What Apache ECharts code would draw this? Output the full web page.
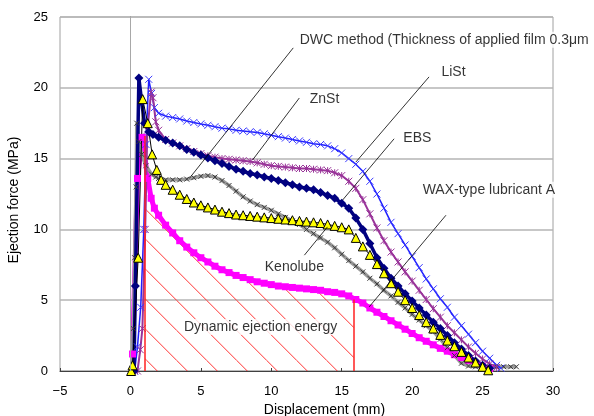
<!DOCTYPE html>
<html>
<head>
<meta charset="utf-8">
<script src="https://cdn.jsdelivr.net/npm/echarts@6/dist/echarts.min.js"></script>
<style>
  html, body { margin: 0; padding: 0; background: #fff; }
  #chart { width: 594px; height: 416px; }
</style>
</head>
<body>
<div id="chart"></div>
<script>
// Ejection force (MPa) vs displacement (mm)
const seriesNames = ['WAX-type lubricant A', 'DWC method', 'LiSt', 'ZnSt', 'EBS', 'Kenolube'];

const waxData = [
  [0.15, 1.2], [0.5, 13.6], [0.83, 16.5], [1.23, 13.6], [1.47, 12.2], [1.7, 11.5], [2.0, 11.0], [2.5, 10.3],
  [3.0, 9.75], [3.5, 9.2], [4.0, 8.75], [4.5, 8.35], [5.0, 8.0], [5.5, 7.7], [6.0, 7.4], [6.5, 7.15],
  [7.0, 6.95], [7.5, 6.75], [8.0, 6.6], [8.5, 6.45], [9.0, 6.3], [9.5, 6.2], [10.0, 6.1], [10.5, 6.0],
  [11.0, 5.95], [11.5, 5.9], [12.0, 5.85], [12.5, 5.8], [13.0, 5.75], [13.5, 5.7], [14.0, 5.6], [14.5, 5.55],
  [15.0, 5.45], [15.5, 5.3], [16.0, 5.05], [16.5, 4.8], [17.0, 4.45], [17.5, 4.15], [18.0, 3.85], [18.5, 3.55],
  [19.0, 3.25], [19.5, 2.95], [20.0, 2.65], [20.5, 2.35], [21.0, 2.1], [21.5, 1.85], [22.0, 1.6], [22.5, 1.4],
  [23.0, 1.15], [23.5, 0.95], [24.0, 0.75], [24.5, 0.55], [25.0, 0.35], [25.5, 0.17]
];

const dwcData = [
  [0.1, 0], [0.2, 3.0], [0.3, 8.0], [0.4, 13.0], [0.45, 17.5], [0.6, 16.2], [0.8, 15.3], [1.1, 14.5],
  [1.5, 13.9], [1.8, 13.7], [2.0, 13.6], [2.5, 13.5], [3.0, 13.5], [3.5, 13.5], [4.0, 13.55], [4.5, 13.65],
  [5.0, 13.75], [5.5, 13.8], [6.0, 13.7], [6.5, 13.45], [7.0, 13.1], [7.5, 12.7], [8.0, 12.3], [8.5, 12.0],
  [9.0, 11.75], [9.5, 11.55], [10.0, 11.35], [10.5, 11.1], [11.0, 10.85], [11.5, 10.6], [12.0, 10.35], [12.5, 10.0],
  [13.0, 9.7], [13.5, 9.4], [14.0, 9.1], [14.5, 8.7], [15.0, 8.25], [15.5, 7.8], [16.0, 7.4], [16.5, 7.0],
  [17.0, 6.55], [17.5, 6.15], [18.0, 5.7], [18.5, 5.3], [19.0, 4.85], [19.5, 4.45], [20.0, 4.0], [20.5, 3.6],
  [21.0, 3.2], [21.5, 2.8], [22.0, 2.25], [22.5, 1.65], [23.0, 1.1], [23.5, 0.55], [24.0, 0.35], [24.5, 0.3],
  [25.0, 0.3], [25.5, 0.3], [26.0, 0.3], [26.5, 0.3], [27.0, 0.3], [27.4, 0.3]
];

const listData = [
  [0.3, 0], [0.5, 1.7], [0.73, 4.5], [0.95, 10.0], [1.1, 16.0], [1.3, 20.6], [1.5, 19.6], [1.7, 18.6],
  [2.0, 18.2], [2.5, 18.0], [3.0, 17.9], [3.5, 17.8], [4.0, 17.65], [4.5, 17.55], [5.0, 17.45], [5.5, 17.35],
  [6.0, 17.25], [6.5, 17.15], [7.0, 17.1], [7.5, 17.0], [8.0, 16.95], [8.5, 16.9], [9.0, 16.85], [9.5, 16.75],
  [10.0, 16.65], [10.5, 16.55], [11.0, 16.45], [11.5, 16.35], [12.0, 16.25], [12.5, 16.15], [13.0, 16.05], [13.5, 16.0],
  [14.0, 15.9], [14.5, 15.7], [15.0, 15.4], [15.5, 15.0], [16.0, 14.6], [16.5, 14.1], [17.0, 13.4], [17.5, 12.5],
  [18.0, 11.5], [18.5, 10.5], [19.0, 9.7], [19.5, 8.9], [20.0, 8.1], [20.5, 7.3], [21.0, 6.5], [21.5, 5.8],
  [22.0, 5.1], [22.5, 4.5], [23.0, 3.8], [23.5, 3.2], [24.0, 2.6], [24.5, 2.0], [25.0, 1.4], [25.5, 0.9],
  [26.0, 0.4], [26.3, 0.2]
];

const znstData = [
  [0.5, 0], [0.7, 1.5], [0.85, 3.0], [1.05, 10.0], [1.2, 17.0], [1.47, 19.7], [1.6, 19.3], [1.8, 17.6],
  [2.0, 17.0], [2.5, 16.35], [3.0, 16.1], [3.5, 15.9], [4.0, 15.7], [4.5, 15.5], [5.0, 15.35], [5.5, 15.2],
  [6.0, 15.1], [6.5, 15.0], [7.0, 14.95], [7.5, 14.9], [8.0, 14.85], [8.5, 14.8], [9.0, 14.7], [9.5, 14.6],
  [10.0, 14.5], [10.5, 14.45], [11.0, 14.4], [11.5, 14.35], [12.0, 14.3], [12.5, 14.3], [13.0, 14.25], [13.5, 14.2],
  [14.0, 14.15], [14.5, 14.0], [15.0, 13.8], [15.5, 13.4], [16.0, 12.9], [16.5, 12.1], [17.0, 11.1], [17.5, 10.1],
  [18.0, 9.2], [18.5, 8.4], [19.0, 7.7], [19.5, 7.0], [20.0, 6.35], [20.5, 5.7], [21.0, 5.05], [21.5, 4.4],
  [22.0, 3.8], [22.5, 3.2], [23.0, 2.7], [23.5, 2.2], [24.0, 1.7], [24.5, 1.25], [25.0, 0.85], [25.5, 0.5],
  [26.0, 0.25]
];

const ebsData = [
  [0.25, 0], [0.35, 6.0], [0.6, 20.7], [0.8, 19.0], [1.0, 17.5], [1.3, 16.9], [1.6, 16.7], [2.0, 16.5],
  [2.5, 16.3], [3.0, 16.1], [3.5, 15.9], [4.0, 15.65], [4.5, 15.45], [5.0, 15.25], [5.5, 15.05], [6.0, 14.85],
  [6.5, 14.65], [7.0, 14.45], [7.5, 14.25], [8.0, 14.1], [8.5, 13.95], [9.0, 13.85], [9.5, 13.7], [10.0, 13.6],
  [10.5, 13.45], [11.0, 13.3], [11.5, 13.15], [12.0, 13.0], [12.5, 12.9], [13.0, 12.8], [13.5, 12.6], [14.0, 12.4],
  [14.5, 12.2], [15.0, 11.85], [15.5, 11.5], [16.0, 10.8], [16.5, 10.0], [17.0, 9.0], [17.5, 8.0], [18.0, 7.25],
  [18.5, 6.55], [19.0, 6.0], [19.5, 5.45], [20.0, 4.95], [20.5, 4.45], [21.0, 3.95], [21.5, 3.45], [22.0, 3.0],
  [22.5, 2.5], [23.0, 2.0], [23.5, 1.55], [24.0, 1.1], [24.5, 0.7], [25.0, 0.4], [25.5, 0.2]
];

const kenolubeData = [
  [0.05, 0], [0.15, 0.4], [0.55, 8.0], [0.87, 19.2], [1.23, 17.5], [1.54, 15.3], [1.87, 14.2], [2.18, 13.5],
  [2.5, 13.15], [3.0, 12.8], [3.5, 12.45], [4.0, 12.15], [4.5, 11.9], [5.0, 11.7], [5.5, 11.55], [6.0, 11.4],
  [6.5, 11.25], [7.0, 11.15], [7.5, 11.05], [8.0, 11.0], [8.5, 10.95], [9.0, 10.9], [9.5, 10.85], [10.0, 10.8],
  [10.5, 10.75], [11.0, 10.7], [11.5, 10.65], [12.0, 10.6], [12.5, 10.55], [13.0, 10.5], [13.5, 10.45], [14.0, 10.35],
  [14.5, 10.25], [15.0, 10.15], [15.5, 10.0], [16.0, 9.4], [16.5, 8.8], [17.0, 8.2], [17.5, 7.55], [18.0, 6.9],
  [18.5, 6.2], [19.0, 5.6], [19.5, 5.0], [20.0, 4.45], [20.5, 3.95], [21.0, 3.45], [21.5, 3.0], [22.0, 2.55],
  [22.5, 2.15], [23.0, 1.75], [23.5, 1.35], [24.0, 0.95], [24.5, 0.6], [25.0, 0.3], [25.4, 0.05]
];

// Dynamic ejection energy: hatched span under the WAX curve, with its two red edges
const energyStart = [1.05, 14.6];
const energyEnd = [15.85, 5.1];
const energyEdgeTops = [16.6, 5.05];

// Annotation texts and where they sit (data coords, left edge / vertical middle)
const labelTexts = [
  'DWC method (Thickness of applied film 0.3\u03bcm',
  'LiSt', 'ZnSt', 'EBS', 'WAX-type lubricant A', 'Kenolube', 'Dynamic ejection energy'
];
const labelAt = [
  [11.84, 23.4], [21.9, 21.1], [12.55, 19.2], [19.2, 16.45], [20.57, 12.8], [9.36, 7.3], [3.62, 3.1]
];
// Leader lines: label end -> curve end
const leaders = [
  [[11.56, 22.82], [4.18, 13.6]],
  [[21.2, 20.77], [16.0, 14.75]],
  [[11.99, 19.28], [8.67, 14.9]],
  [[18.72, 16.4], [15.06, 12.07]],
  [[22.4, 11.0], [16.95, 4.53]],
  [[12.35, 8.18], [13.99, 10.18]]
];

const FONT = '"Liberation Sans", Arial, sans-serif';
const X_MARK = 'path://M0,0L10,10M10,0L0,10';
const STAR_MARK = 'path://M0,0L10,10M10,0L0,10M5,0L5,10';

function hatchPattern() {
  const c = document.createElement('canvas');
  c.width = 30; c.height = 30;
  const g = c.getContext('2d');
  g.strokeStyle = 'rgba(255,30,30,0.9)';
  g.lineWidth = 1;
  g.beginPath();
  for (const x0 of [-33.7, -3.7, 26.3]) { g.moveTo(x0, 0); g.lineTo(x0 + 30, 30); }
  g.stroke();
  return c;
}

const energyData = [
  [energyStart[0], 0], energyStart,
  ...waxData.filter((p) => p[0] > energyStart[0] && p[0] < energyEnd[0]),
  energyEnd, [energyEnd[0], 0]
];

function curve(name, data, opts) {
  return Object.assign({
    name,
    type: 'line',
    data,
    silent: true,
    clip: false
  }, opts);
}

const chart = echarts.init(document.getElementById('chart'), null, { renderer: 'canvas' });
chart.setOption({
  animation: false,
  backgroundColor: '#fff',
  textStyle: { fontFamily: FONT },
  grid: {
    left: 60, right: 41, top: 17, bottom: 45,
    outerBoundsMode: 'none', containLabel: false,
    show: true, borderColor: '#a0a0a0', borderWidth: 1
  },
  xAxis: {
    type: 'value', min: -5, max: 30, interval: 5,
    name: 'Displacement (mm)', nameLocation: 'middle', nameGap: 32,
    nameTextStyle: { fontSize: 14, color: '#000', fontFamily: FONT, padding: [0, 0, 0, 36] },
    axisLine: { lineStyle: { color: '#404040', width: 1 } },
    axisTick: { show: true, inside: true, length: 3, lineStyle: { color: '#404040' } },
    axisLabel: { fontSize: 13, color: '#000', margin: 14, fontFamily: FONT, formatter: (v) => String(v).replace('-', '\u2212') },
    splitLine: { show: false }
  },
  yAxis: {
    type: 'value', min: 0, max: 25, interval: 5,
    name: 'Ejection force (MPa)', nameLocation: 'middle', nameGap: 39,
    nameTextStyle: { fontSize: 14, color: '#000', fontFamily: FONT, padding: [0, 12, 0, 0] },
    axisLine: { show: true, lineStyle: { color: '#808080', width: 1 } },
    axisTick: { show: false },
    axisLabel: { fontSize: 13, color: '#000', margin: 12, fontFamily: FONT },
    splitLine: { show: true, lineStyle: { color: '#b4b4b4', width: 1.5 } }
  },
  series: [
    {
      name: 'Dynamic ejection energy',
      type: 'line',
      data: energyData,
      silent: true,
      showSymbol: false,
      lineStyle: { width: 0 },
      areaStyle: { color: { image: hatchPattern(), repeat: 'repeat' }, opacity: 1 },
      markLine: {
        silent: true, symbol: 'none', label: { show: false },
        lineStyle: { color: '#ff2020', width: 1.5, type: 'solid' },
        data: [
          [{ coord: [energyStart[0], 0] }, { coord: [energyStart[0], energyEdgeTops[0]] }],
          [{ coord: [energyEnd[0], 0] }, { coord: [energyEnd[0], energyEdgeTops[1]] }]
        ]
      }
    },
    {
      // x = 0 crossing line of the original sheet
      type: 'line', data: [], silent: true,
      markLine: {
        silent: true, symbol: 'none', label: { show: false },
        lineStyle: { color: '#a8a8a8', width: 1, type: 'solid' },
        data: [{ xAxis: 0 }]
      }
    },
    curve(seriesNames[0], waxData, {
      symbol: 'rect', symbolSize: 7,
      itemStyle: { color: '#ff00ff' },
      lineStyle: { color: '#ff00ff', width: 5 }
    }),
    curve(seriesNames[1], dwcData, {
      symbol: X_MARK, symbolSize: 5,
      itemStyle: { color: '#999', borderColor: '#3a3a3a', borderWidth: 1 },
      lineStyle: { color: '#9a9a9a', width: 3.5 }
    }),
    curve(seriesNames[2], listData, {
      symbol: X_MARK, symbolSize: 7,
      itemStyle: { color: '#3a3aff', borderColor: '#3a3aff', borderWidth: 1 },
      lineStyle: { color: '#2020ff', width: 1.5 }
    }),
    curve(seriesNames[3], znstData, {
      symbol: STAR_MARK, symbolSize: 7,
      itemStyle: { color: '#993399', borderColor: '#993399', borderWidth: 1 },
      lineStyle: { color: '#993399', width: 2 }
    }),
    curve(seriesNames[4], ebsData, {
      symbol: 'diamond', symbolSize: 9,
      itemStyle: { color: '#000080' },
      lineStyle: { color: '#000080', width: 3.5 }
    }),
    curve(seriesNames[5], kenolubeData, {
      symbol: 'triangle', symbolSize: 9,
      itemStyle: { color: '#ffff00', borderColor: '#000', borderWidth: 1 },
      lineStyle: { color: '#000', width: 1 }
    }),
    {
      // leader lines from labels to curves
      type: 'line', data: [], silent: true,
      markLine: {
        silent: true, symbol: 'none', label: { show: false },
        lineStyle: { color: '#000', width: 0.8, type: 'solid' },
        data: leaders.map(([a, b]) => [{ coord: a }, { coord: b }])
      }
    },
    {
      type: 'scatter',
      silent: true,
      clip: false,
      symbolSize: 1,
      itemStyle: { color: 'rgba(0,0,0,0)' },
      data: labelTexts.map((t, i) => ({ name: t, value: labelAt[i] })),
      label: {
        show: true, position: 'right', distance: 0,
        formatter: (p) => p.name,
        color: '#000', fontSize: 14, fontFamily: FONT,
        backgroundColor: '#fff', padding: [1, 2]
      },
      z: 10
    }
  ]
});
</script>
</body>
</html>
